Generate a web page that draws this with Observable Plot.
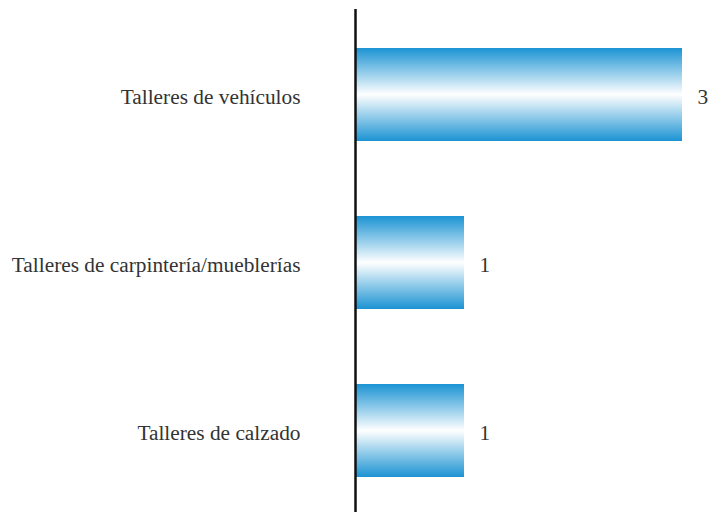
<!DOCTYPE html>
<html>
<head>
<meta charset="utf-8">
<script src="https://cdn.jsdelivr.net/npm/d3@7"></script>
<script src="https://cdn.jsdelivr.net/npm/@observablehq/plot@0.6"></script>
<style>
  html, body { margin: 0; padding: 0; background: #fff; }
  svg text { font-family: "Liberation Serif", "Times New Roman", serif; }
</style>
</head>
<body>
<div id="chart"></div>
<script>
const categories = ["Talleres de vehículos", "Talleres de carpintería/mueblerías", "Talleres de calzado"];
const values = [3, 1, 1];

const data = categories.map((c, i) => ({category: c, value: values[i]}));

const chart = Plot.plot({
  width: 711,
  height: 512,
  marginLeft: 355,
  marginRight: 29,
  marginTop: 9,
  marginBottom: -3,
  style: {fontFamily: "'Liberation Serif', 'Times New Roman', serif", fontSize: "21.33px", color: "#333", background: "#fff", overflow: "hidden"},
  x: {domain: [0, 3], axis: null},
  y: {domain: categories, paddingInner: 0.448, paddingOuter: 0.224, label: null},
  marks: [
    () => {
      const svg = d3.create("svg:defs");
      const g = svg.append("linearGradient")
        .attr("id", "barGrad").attr("x1", 0).attr("y1", 0).attr("x2", 0).attr("y2", 1);
      g.append("stop").attr("offset", "0%").attr("stop-color", "#1b93d3");
      g.append("stop").attr("offset", "50%").attr("stop-color", "#ffffff");
      g.append("stop").attr("offset", "100%").attr("stop-color", "#1b93d3");
      return svg.node();
    },
    Plot.barX(data, {x: "value", y: "category", fill: "url(#barGrad)"}),
    Plot.text(data, {x: "value", y: "category", text: d => String(d.value), textAnchor: "start", dx: 15, dy: 2, fill: "#333", fontSize: 21.33}),
    Plot.axisY({tickSize: 0, tickPadding: 55, fontSize: 21.33, dy: 2, fill: "#333"}),
    Plot.ruleX([0], {stroke: "#111", strokeWidth: 2.5})
  ]
});

document.getElementById("chart").appendChild(chart);
</script>
</body>
</html>
